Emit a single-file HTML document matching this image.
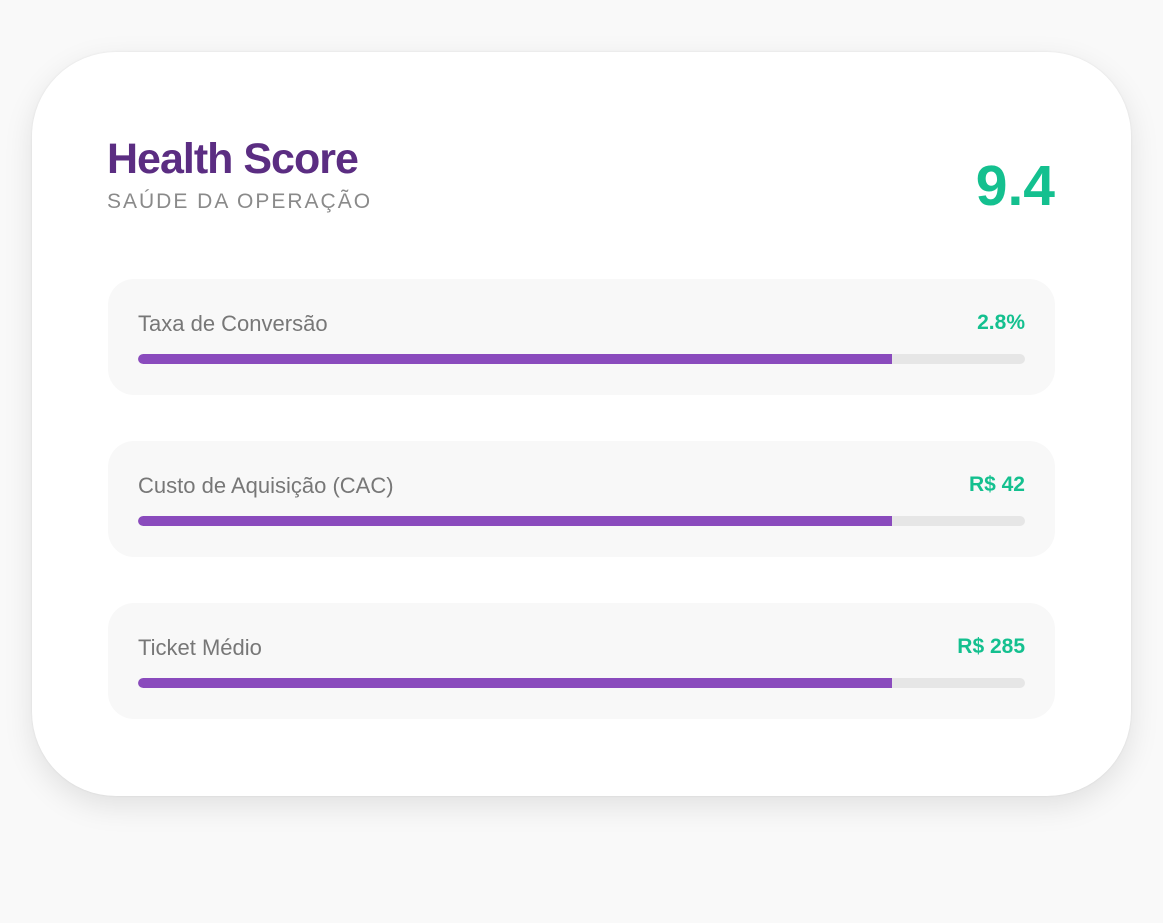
<!DOCTYPE html>
<html><head><meta charset="utf-8"><style>
html,body{margin:0;padding:0;width:1163px;height:923px;background:#f9f9f9;overflow:hidden;font-family:"Liberation Sans",sans-serif;}
.card{position:absolute;left:32px;top:52px;width:1099px;height:744px;background:#fff;border-radius:84px;box-shadow:0 10px 30px rgba(0,0,0,0.10),0 0 2px rgba(0,0,0,0.08);}
.title{position:absolute;left:107px;top:135px;font-size:43px;font-weight:bold;color:#5b2d82;letter-spacing:-1px;}
.sub{position:absolute;left:107px;top:190px;font-size:21px;color:#8a8a8a;letter-spacing:2px;}
.score{position:absolute;right:108px;top:153px;font-size:57px;color:#14c08f;font-weight:bold;}
.row{position:absolute;left:108px;width:947px;height:116px;background:#f8f8f8;border-radius:26px;}
.lab{position:absolute;left:30px;top:32px;font-size:22px;color:#777;}
.val{position:absolute;right:30px;top:32px;font-size:21px;color:#14c08f;font-weight:bold;}
.trk{position:absolute;left:30px;top:75px;width:887px;height:10px;background:#e6e6e6;border-radius:5px;overflow:hidden;}
.fill{width:754px;height:10px;background:#8a4bbd;border-radius:5px 0 0 5px;}
</style></head><body>
<div class="card"></div>
<div class="title">Health Score</div>
<div class="sub">SAÚDE DA OPERAÇÃO</div>
<div class="score">9.4</div>
<div class="row" style="top:279px"><div class="lab">Taxa de Conversão</div><div class="val">2.8%</div><div class="trk"><div class="fill"></div></div></div>
<div class="row" style="top:441px"><div class="lab">Custo de Aquisição (CAC)</div><div class="val">R$ 42</div><div class="trk"><div class="fill"></div></div></div>
<div class="row" style="top:603px"><div class="lab">Ticket Médio</div><div class="val">R$ 285</div><div class="trk"><div class="fill"></div></div></div>
</body></html>
